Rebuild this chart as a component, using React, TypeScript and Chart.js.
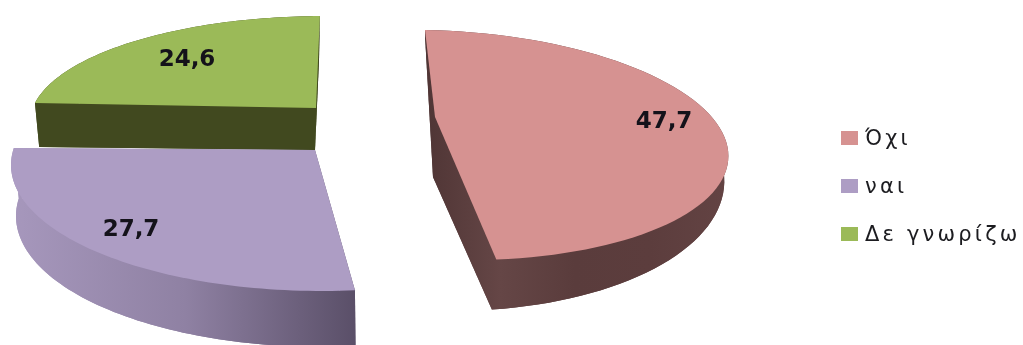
import React, { useEffect, useRef } from "react";
import { Chart, registerables } from "chart.js";

Chart.register(...registerables);

const categories = ["Όχι", "ναι", "Δε γνωρίζω"];
const shares = [47.7, 27.7, 24.6];
const valueLabels = ["47,7", "27,7", "24,6"];
const topColors = ["#D69291", "#AD9DC4", "#9BBA58"];

type Vec = [number, number];
type Face = { centre: Vec; a: Vec; b: Vec; apex: Vec };
type Wedge = {
  top: Face;
  bottom: Face;
  phase: number;
  stretch: number;
  wall: [number, number, string[]];
  label: Vec;
};

const deg = (d: number) => (d * Math.PI) / 180;

// Oblique projection of each exploded wedge: the rim is an ellipse, the apex sits
// off its centre to give the perspective, and the lower face is the extruded base.
const wedges: Wedge[] = [
  {
    top: { centre: [440, 145], a: [288, 5], b: [15, 115], apex: [435, 117] },
    bottom: { centre: [438, 175], a: [286, 0], b: [12.8, 136], apex: [433, 177] },
    phase: 0,
    stretch: 1,
    wall: [425, 725, ["#4f3535", "#654646", "#5a3c3c", "#5c3d3d", "#634343"]],
    label: [664, 122],
  },
  {
    top: { centre: [322, 165], a: [311, 0], b: [0, 126], apex: [315, 150] },
    bottom: { centre: [323, 216], a: [307, 0], b: [0, 131], apex: [315, 205] },
    phase: deg(2.2),
    stretch: 1.041,
    wall: [15, 356, ["#A697BC", "#8F81A3", "#5A4F68"]],
    label: [131, 230],
  },
  {
    top: { centre: [325, 122.5], a: [295, 0], b: [0, 106.5], apex: [316, 108] },
    bottom: { centre: [315, 150], a: [276, 0.8], b: [-4, 90], apex: [315, 150] },
    phase: deg(9.1),
    stretch: 0.886,
    wall: [35, 320, ["#41491F", "#41491F"]],
    label: [187, 60],
  },
];

const paintOrder = [2, 0, 1];
const legendLeft = 841;
const legendRows = [138, 186, 234];
const legendBaselines = [145, 193, 241];
const swatchWidth = 17;
const swatchHeight = 14;
const STEPS = 72;

const rimPoints = (face: Face, start: number, end: number, w: Wedge, warped: boolean): Vec[] => {
  const pts: Vec[] = [];
  const phase = warped ? w.phase : 0;
  const stretch = warped ? w.stretch : 1;
  for (let i = 0; i <= STEPS; i++) {
    const t = phase + (i / STEPS) * (end - start) * stretch + start;
    const c = Math.cos(t);
    const s = Math.sin(t);
    pts.push([
      face.centre[0] + c * face.a[0] + s * face.b[0],
      face.centre[1] + c * face.a[1] + s * face.b[1],
    ]);
  }
  return pts;
};

const fillPoly = (ctx: CanvasRenderingContext2D, pts: Vec[]) => {
  ctx.beginPath();
  pts.forEach((p, i) => (i ? ctx.lineTo(p[0], p[1]) : ctx.moveTo(p[0], p[1])));
  ctx.closePath();
  ctx.fill();
};

// Replaces the flat arcs with extruded wedges, using the angles the pie controller computed.
const extrudedPie = {
  id: "extrudedPie",
  beforeDatasetDraw(chart: Chart) {
    const ctx = chart.ctx;
    const arcs = chart.getDatasetMeta(0).data as any[];
    const colors = chart.data.datasets[0].backgroundColor as string[];
    ctx.save();
    paintOrder.forEach((i) => {
      const w = wedges[i];
      const { startAngle, endAngle } = arcs[i].getProps(["startAngle", "endAngle"], true);
      const upper = rimPoints(w.top, startAngle, endAngle, w, true);
      // The green base keeps its plain ellipse, since its rim is hidden behind the top face.
      const lower = rimPoints(w.bottom, startAngle, endAngle, w, i !== 2);
      const [x0, x1, stops] = w.wall;
      const grad = ctx.createLinearGradient(x0, 0, x1, 0);
      stops.forEach((c, k) => grad.addColorStop(k / (stops.length - 1), c));
      ctx.fillStyle = grad;
      fillPoly(ctx, [w.bottom.apex, ...lower]);
      fillPoly(ctx, [...upper, ...[...lower].reverse()]);
      fillPoly(ctx, [w.top.apex, upper[0], lower[0], w.bottom.apex]);
      fillPoly(ctx, [w.top.apex, upper[STEPS], lower[STEPS], w.bottom.apex]);
      ctx.fillStyle = colors[i];
      fillPoly(ctx, [w.top.apex, ...upper]);
    });
    ctx.restore();
    return false;
  },
  afterDraw(chart: Chart) {
    const ctx = chart.ctx;
    const colors = chart.data.datasets[0].backgroundColor as string[];
    ctx.save();
    ctx.textBaseline = "middle";
    ctx.textAlign = "center";
    ctx.font = "bold 23px 'DejaVu Sans'";
    ctx.fillStyle = "#14121a";
    valueLabels.forEach((text, i) => ctx.fillText(text, wedges[i].label[0], wedges[i].label[1]));
    ctx.textAlign = "left";
    ctx.textBaseline = "alphabetic";
    ctx.font = "21px 'DejaVu Sans'";
    (ctx as any).letterSpacing = "3.2px";
    (chart.data.labels as string[]).forEach((text, i) => {
      const y = legendRows[i];
      ctx.fillStyle = colors[i];
      ctx.fillRect(legendLeft, y - swatchHeight / 2, swatchWidth, swatchHeight);
      ctx.fillStyle = "#1c1c20";
      ctx.fillText(text, legendLeft + 24, legendBaselines[i]);
    });
    ctx.restore();
  },
};

export default function App() {
  const ref = useRef<HTMLCanvasElement>(null);
  useEffect(() => {
    document.body.style.margin = "0";
    document.body.style.background = "#fff";
    const chart = new Chart(ref.current!, {
      type: "pie",
      data: {
        labels: categories,
        datasets: [{ data: shares, backgroundColor: topColors, borderWidth: 0 }],
      },
      options: {
        animation: false,
        responsive: false,
        plugins: { legend: { display: false }, tooltip: { enabled: false } },
      },
      plugins: [extrudedPie],
    });
    return () => chart.destroy();
  }, []);
  return <canvas ref={ref} width={1023} height={345} style={{ display: "block" }} />;
}
